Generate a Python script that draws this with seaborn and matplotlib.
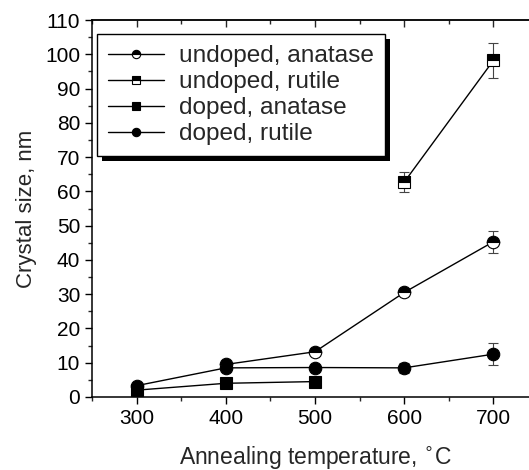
import numpy as np
import pandas as pd
import seaborn as sns
import matplotlib.pyplot as plt
from matplotlib.ticker import MultipleLocator
from matplotlib.patches import Rectangle

## Data
ua_temp = [400, 500, 600, 700]
ua_size = [9.5, 13.2, 30.5, 45.3]
ua_err = [0.6, 0.8, 1.0, 3.2]

ur_temp = [600, 700]
ur_size = [62.7, 98.2]
ur_err = [3.0, 5.0]

da_temp = [300, 400, 500]
da_size = [2.0, 4.0, 4.5]
da_err = [0.0, 0.0, 0.0]

dr_temp = [300, 400, 500, 600, 700]
dr_size = [3.3, 8.5, 8.6, 8.5, 12.5]
dr_err = [0.0, 1.0, 0.5, 1.5, 3.2]

labels = ['undoped, anatase', 'undoped, rutile', 'doped, anatase', 'doped, rutile']

sns.set_style("ticks")
plt.rcParams['font.family'] = ['Liberation Sans', 'DejaVu Sans']

fig = plt.figure(figsize=(5.29, 4.70), dpi=100)
ax = fig.add_axes([92 / 529, 73 / 470, 446 / 529, 377 / 470])

series = [
    (ua_temp, ua_size, ua_err, 'o', 'top'),
    (ur_temp, ur_size, ur_err, 's', 'top'),
    (da_temp, da_size, da_err, 's', 'full'),
    (dr_temp, dr_size, dr_err, 'o', 'full'),
]

for (t, s, e, m, fs), lab in zip(series, labels):
    df = pd.DataFrame({'temp': t, 'size': s})
    ax.errorbar(t, s, yerr=e, fmt='none', ecolor='#444444', elinewidth=0.8,
                capsize=3.5, capthick=0.8, zorder=2)
    sns.lineplot(data=df, x='temp', y='size', ax=ax, color='black', lw=1.0,
                 marker=m, markersize=9 if m == 'o' else 8, fillstyle=fs,
                 markerfacecolor='black', markerfacecoloralt='white',
                 mec='black', mew=0.8, label=lab, zorder=3)

ax.set_xlim(250, 750)
ax.set_ylim(0, 110)
ax.xaxis.set_major_locator(MultipleLocator(100))
ax.xaxis.set_minor_locator(MultipleLocator(50))
ax.yaxis.set_major_locator(MultipleLocator(10))
ax.yaxis.set_minor_locator(MultipleLocator(5))

ax.tick_params(which='major', direction='out', length=5, width=1.0, labelsize=15, colors='black')
ax.tick_params(which='minor', direction='out', length=3, width=1.0)
for sp in ax.spines.values():
    sp.set_visible(True)
    sp.set_linewidth(1.1)
    sp.set_color('black')

top = ax.secondary_xaxis('top')
top.xaxis.set_major_locator(MultipleLocator(100))
top.xaxis.set_minor_locator(MultipleLocator(50))
top.tick_params(which='major', direction='in', length=5, width=1.0, labeltop=False)
top.tick_params(which='minor', direction='in', length=3, width=1.0)
top.spines['top'].set_linewidth(1.1)

ax.set_xlabel('Annealing temperature, $^{\\circ}$C', fontsize=16.5, labelpad=12)
ax.set_ylabel('Crystal size, nm', fontsize=16, labelpad=6)

leg = ax.legend(loc='upper left', bbox_to_anchor=(0.011, 0.963), fontsize=17.6,
                frameon=True, fancybox=False, edgecolor='black', framealpha=1,
                handlelength=2.3, handletextpad=0.6, labelspacing=0.16,
                borderpad=0.45, borderaxespad=0)
leg.get_frame().set_linewidth(1.0)
leg.set_zorder(10)
for h in leg.legend_handles:
    h.set_markersize(6)

# black drop shadow behind the legend box
fig.canvas.draw()
bb = leg.get_window_extent().transformed(ax.transAxes.inverted())
dx = 5 / 446
dy = 5 / 377
ax.add_patch(Rectangle((bb.x0 + dx, bb.y0 - dy), bb.width, bb.height,
                       transform=ax.transAxes, facecolor='black', edgecolor='none',
                       zorder=9, clip_on=False))

plt.savefig('out.png', dpi=100)
